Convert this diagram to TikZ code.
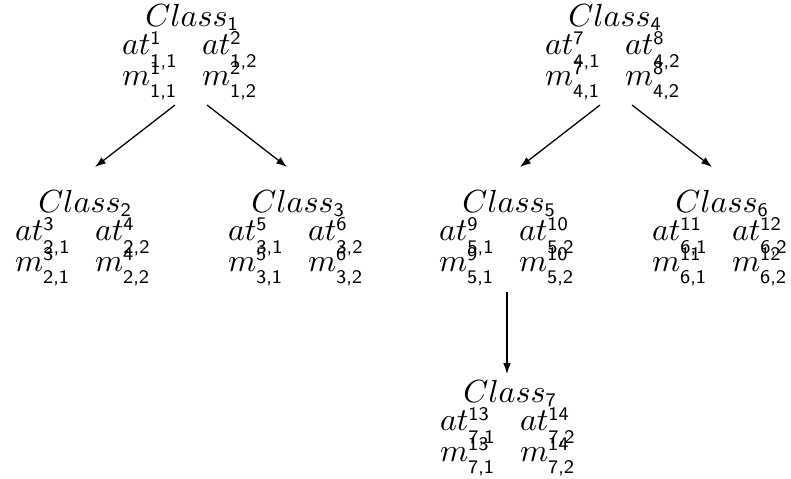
\documentclass[tikz,border=0pt]{standalone}
\usetikzlibrary{arrows.meta}

% small sans figures for the indices
\newcommand\idx[1]{{\fontsize{6}{6}\selectfont\sffamily #1}}

% index pair: upper index raised, lower index dropped below the baseline
\newcommand\supsub[2]{\mbox{%
  \rlap{\raisebox{3.4pt}{\idx{#1}}}%
  \raisebox{-3.8pt}{\idx{#2}}}}

% one class: name on top, then a row of attributes and a row of methods
\newcommand\classcell[3]{%
  \vbox{\lineskiplimit=-100pt \lineskip=0pt \baselineskip=8.8pt
    \hbox to 42pt{\hfil\kern1.5pt$Class$\raisebox{-1.3pt}{\idx{#1}}\hfil}%
    \hbox{\hbox to 25pt{$at$\supsub{#2}{#1,1}\hfil}$at$\supsub{#3}{#1,2}}%
    \baselineskip=9.4pt
    \hbox{\hbox to 25pt{$m$\supsub{#2}{#1,1}\hfil}$m$\supsub{#3}{#1,2}}}}

\tikzset{
  classnode/.style={inner sep=0pt, outer sep=0pt, anchor=base west},
  link/.style={line width=0.4pt, -{Latex[length=3.4pt,width=2.4pt]}}
}

\begin{document}
\begin{tikzpicture}[x=0.3125pt, y=-0.3125pt]
  \useasboundingbox (0,0) rectangle (791,478);

  \node[classnode] (c1) at (122,85)  {\classcell{1}{1}{2}};
  \node[classnode] (c4) at (545,85)  {\classcell{4}{7}{8}};
  \node[classnode] (c2) at (15,271)  {\classcell{2}{3}{4}};
  \node[classnode] (c3) at (228,271) {\classcell{3}{5}{6}};
  \node[classnode] (c5) at (439,271) {\classcell{5}{9}{10}};
  \node[classnode] (c6) at (652,271) {\classcell{6}{11}{12}};
  \node[classnode] (c7) at (440,461) {\classcell{7}{13}{14}};

  % arrow end points
  \coordinate (c1l) at (175,105);
  \coordinate (c1r) at (207,105);
  \coordinate (c2t) at (95,167);
  \coordinate (c3t) at (287,167);
  \coordinate (c4l) at (600,105);
  \coordinate (c4r) at (632,105);
  \coordinate (c5t) at (520,167);
  \coordinate (c6t) at (712,167);
  \coordinate (c5b) at (507,292);
  \coordinate (c7t) at (507,374);

  \draw[link] (c1l) -- (c2t);
  \draw[link] (c1r) -- (c3t);
  \draw[link] (c4l) -- (c5t);
  \draw[link] (c4r) -- (c6t);
  \draw[link] (c5b) -- (c7t);
\end{tikzpicture}
\end{document}
